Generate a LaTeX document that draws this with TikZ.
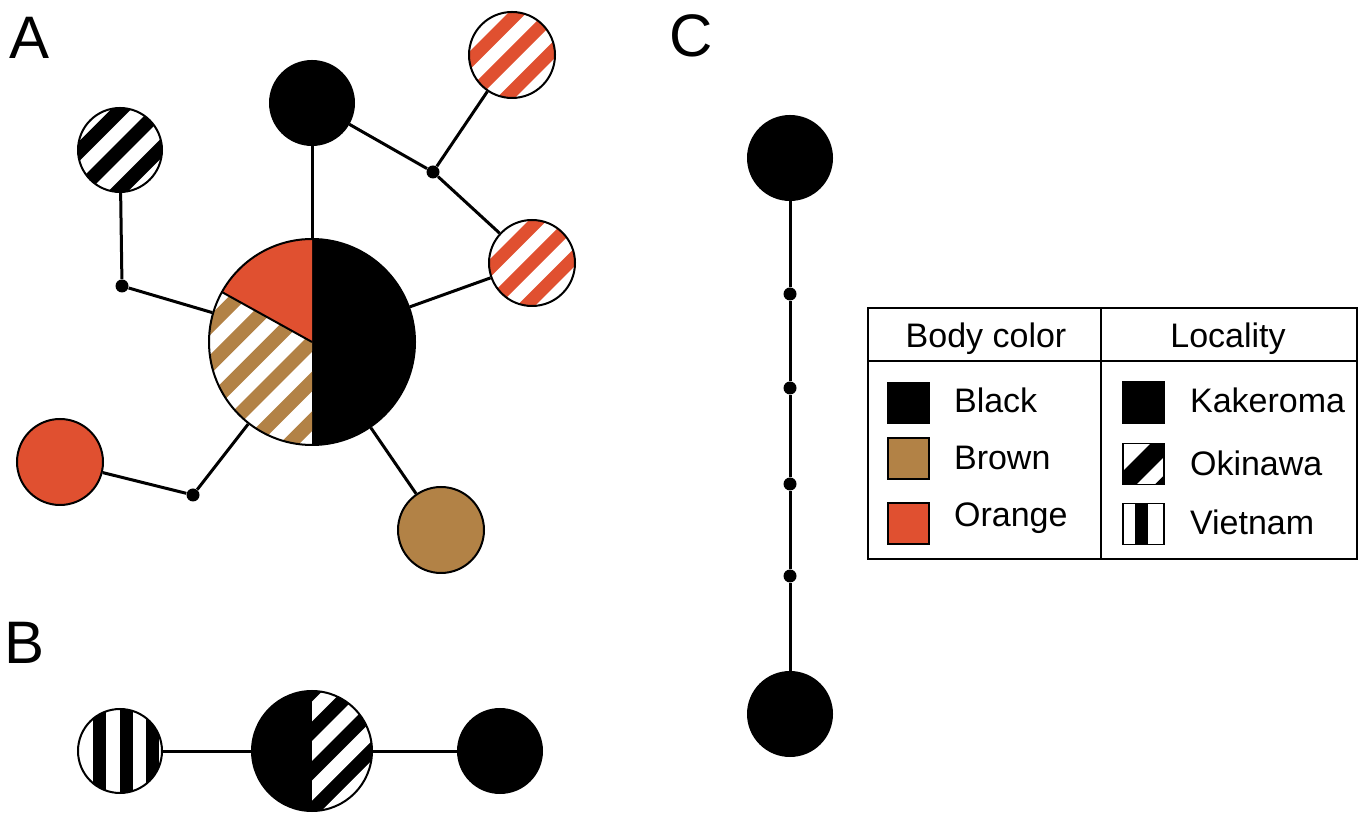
\documentclass[tikz,border=0pt]{standalone}
\usepackage{fontspec}
\setmainfont{Liberation Sans}
\usepackage{tikz}
\definecolor{hporange}{RGB}{224,80,48}
\definecolor{hpbrown}{RGB}{178,130,70}
\newcommand{\hapstripes}[2]{%
  \foreach \k [evaluate=\k as \sa using (\k-0.25)*#2*0.7071,
               evaluate=\k as \sb using (\k+0.25)*#2*0.7071] in {-5,...,5} {
    \fill[#1] ({\sa-106},{-(\sa)-106}) -- ({\sb-106},{-(\sb)-106})
      -- ({\sb+106},{-(\sb)+106}) -- ({\sa+106},{-(\sa)+106}) -- cycle;
  }}

\begin{document}
\begin{tikzpicture}[x=0.5pt, y=0.5pt,
  hap/.style={circle, draw, line width=1pt, inner sep=0pt, minimum size=#1},
  junct/.style={circle, fill, inner sep=0pt, minimum size=6.5pt},
  link/.style={line width=1.5pt},
  diag/.style 2 args={path picture={
    \begin{scope}[shift={(path picture bounding box.center)}]
      \hapstripes{#1}{#2}
    \end{scope}}},
  panel/.style={font=\fontsize{30}{34}\selectfont},
  legtext/.style={font=\fontsize{17}{20}\selectfont, anchor=base west},
  swatch/.style={draw, line width=0.8pt, inner sep=0pt, minimum size=20.5pt},
]
\useasboundingbox (0,0) rectangle (1368,818);

\node[panel] (labA) at (30,780) {A};
\node[panel] (labB) at (25,175) {B};
\node[panel] (labC) at (691,782) {C};

% A
\node[hap=103pt, path picture={
    \fill[black] (path picture bounding box.center) -- ++(90:110) arc[start angle=90, end angle=-90, radius=110] -- cycle;
    \fill[hporange] (path picture bounding box.center) -- ++(90:110) arc[start angle=90, end angle=151, radius=110] -- cycle;
    \begin{scope}
      \clip (path picture bounding box.center) -- ++(151:110) arc[start angle=151, end angle=270, radius=110] -- cycle;
      \begin{scope}[shift={(path picture bounding box.center)}]
        \hapstripes{hpbrown}{28}
      \end{scope}
    \end{scope}
    \draw[line width=1pt] (path picture bounding box.center) -- ++(151:110);
  }] (pie) at (312,476) {};
\node[hap=42pt, fill=black] (blkA) at (312,715) {};
\node[hap=42pt, diag={black}{28}] (okiA) at (120,668) {};
\node[hap=43pt, diag={hporange}{26}] (ostA) at (512,763) {};
\node[hap=43pt, diag={hporange}{26}] (ostB) at (532,555) {};
\node[hap=43pt, fill=hporange] (orgA) at (60,356) {};
\node[hap=43pt, fill=hpbrown] (brnA) at (441,288) {};
\node[junct] (j1) at (122,532) {};
\node[junct] (j2) at (433,646) {};
\node[junct] (j3) at (193,323) {};

\draw[link] (okiA) -- (j1) -- (pie);
\draw[link] (pie) -- (blkA);
\draw[link] (blkA) -- (j2) -- (ostA);
\draw[link] (j2) -- (ostB);
\draw[link] (pie) -- (ostB);
\draw[link] (orgA) -- (j3) -- (pie);
\draw[link] (pie) -- (brnA);

% B
\node[hap=42pt, path picture={
    \begin{scope}[shift={(path picture bounding box.center)}]
      \foreach \xx in {-21,6.5,32.5} \fill[black] (\xx-6.5,-50) rectangle (\xx+6.5,50);
    \end{scope}
  }] (vietB) at (120,67) {};
\node[hap=60pt, fill=black, path picture={
    \begin{scope}[shift={(path picture bounding box.center)}]
      \clip (0,-70) rectangle (70,70);
      \hapstripes{white}{28}
    \end{scope}
  }] (midB) at (312,67) {};
\node[hap=42pt, fill=black] (blkB) at (500,67) {};
\draw[link] (vietB) -- (midB) -- (blkB);

% C
\node[hap=42pt, fill=black] (topC) at (790,660) {};
\node[hap=42pt, fill=black] (botC) at (790,104) {};
\foreach \yy [count=\i] in {524,430,334,242}
  \node[junct] (c\i) at (790,\yy) {};
\draw[link] (topC) -- (c1) -- (c2) -- (c3) -- (c4) -- (botC);

% legend
\draw[line width=1pt] (868,259) rectangle (1357,510);
\draw[line width=1pt] (868,457) -- (1357,457);
\draw[line width=1pt] (1101,259) -- (1101,510);
\node[legtext, anchor=base] (hdBody) at (986,470) {Body color};
\node[legtext, anchor=base] (hdLoc) at (1228,470) {Locality};
\foreach \nm/\col/\sy/\ty in {Black/black/415/405, Brown/hpbrown/359.5/348, Orange/hporange/294.5/291} {
  \node[swatch, fill=\col] (sw\nm) at (908.5,\sy) {};
  \node[legtext] (tx\nm) at (947,\ty) {\nm};
}
\node[swatch, fill=black] (swKak) at (1143.5,415.5) {};
\node[swatch, path picture={
    \begin{scope}[shift={(path picture bounding box.center)}]
      \fill[black] (-46.72,-33.28) -- (-33.28,-46.72) -- (46.72,33.28) -- (33.28,46.72) -- cycle;
      \fill[black] (-24.09,-55.91) -- (-10.66,-69.34) -- (69.34,10.66) -- (55.91,24.09) -- cycle;
    \end{scope}
  }] (swOki) at (1143.5,354) {};
\node[swatch, path picture={
    \begin{scope}[shift={(path picture bounding box.center)}]
      \fill[black] (-8.5,-30) rectangle (4.5,30);
    \end{scope}
  }] (swViet) at (1143.5,294) {};
\node[legtext] (txKak) at (1183,405) {Kakeroma};
\node[legtext] (txOki) at (1183,342) {Okinawa};
\node[legtext] (txViet) at (1183,283) {Vietnam};
\end{tikzpicture}
\end{document}
